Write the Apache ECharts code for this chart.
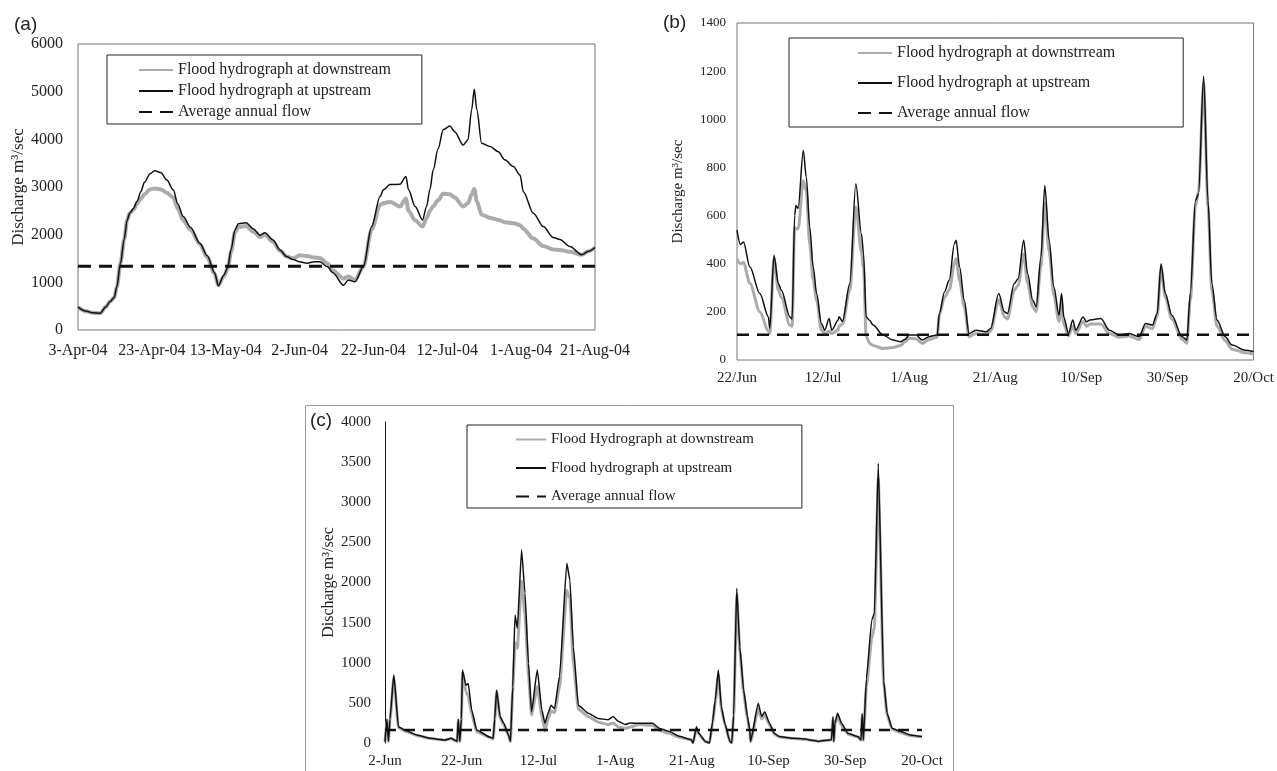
<!DOCTYPE html>
<html><head><meta charset="utf-8">
<script src="https://cdn.jsdelivr.net/npm/echarts@6/dist/echarts.min.js"></script>
<style>html,body{margin:0;padding:0;background:#fff}#c{width:1277px;height:771px}</style>
</head><body><div id="c"></div>
<script>
// ---------- Panel (a) ----------
const aTicks = ['3-Apr-04','23-Apr-04','13-May-04','2-Jun-04','22-Jun-04','12-Jul-04','1-Aug-04','21-Aug-04'];
const aDays = [0,2,4,6,7.5,8.7,9.8,10.5,11.5,12.5,13.3,14,15,16,17,18,19.5,20.8,22.5,24,25.8,27,28.5,30.5,33,35,37,38,39.5,40.5,41.5,42.5,43.4,45.5,47.5,49.3,50.6,52.8,54.7,56.5,58.3,60,62,64,65.5,67.5,69,71.9,73.2,75,77.3,79.5,81.8,82.7,84.5,87.2,88.8,89.5,91.3,93.3,94.4,95.3,96.2,97.5,98.9,100.7,102,104.3,105.6,106.6,107.3,108,109.3,111.6,113.8,115.6,117.9,119.7,120.6,123.3,126,128.7,130.5,133.2,136.4,138.2,140];
const aUp = [480,400,360,350,480,600,680,900,1400,1900,2300,2450,2550,2700,2900,3100,3280,3340,3300,3150,2940,2650,2380,2150,1820,1560,1200,930,1150,1300,1700,2100,2230,2250,2120,1990,2040,1890,1680,1540,1480,1430,1400,1430,1430,1330,1200,940,1050,1010,1330,2170,2800,2940,3050,3060,3220,2940,2590,2310,2590,2950,3360,3800,4200,4280,4160,3880,3990,4620,5050,4620,3920,3850,3740,3570,3430,3250,2900,2450,2170,1940,1900,1750,1580,1650,1730];
const aDown = [480,400,360,350,480,600,680,900,1400,1900,2300,2450,2520,2650,2750,2850,2950,2970,2950,2880,2780,2550,2300,2100,1800,1520,1180,940,1130,1280,1650,2050,2160,2180,2060,1950,2000,1850,1660,1540,1500,1570,1550,1520,1510,1400,1250,1080,1120,1050,1330,2100,2620,2660,2690,2590,2760,2500,2300,2170,2350,2500,2600,2720,2860,2850,2780,2590,2660,2850,2960,2700,2420,2350,2310,2260,2240,2200,2120,1920,1760,1690,1680,1640,1580,1650,1730];
const aAvg = 1340;

// ---------- Panel (b) ----------
const bTicks = ['22/Jun','12/Jul','1/Aug','21/Aug','10/Sep','30/Sep','20/Oct'];
const bDays = [0,0.8,1.5,3,5.3,7.3,7.6,8.6,9.6,10.3,12.3,12.8,13.4,13.7,14.2,15.4,16.1,16.9,17.7,18.5,19.6,20.4,21.4,22,23.5,23.7,24.5,26.2,27.6,28.9,29.4,30,30.8,31.6,33.9,36.2,38,39,40,41.6,43,44.6,46.5,47,48.2,49.3,50.5,50.9,51.7,52.8,53.9,55.5,57.9,58.9,60.8,62.1,62.8,64.4,65.3,66.6,67.5,68.7,69.5,70.6,71.5,72.5,73.6,74.8,75.4,75.9,77,78,78.7,80.4,81.2,82,84.5,86.5,88.8,91.1,93.4,94.9,96.5,97.6,98.5,99.5,101,103.4,104.5,105.3,106.5,107.2,108.4,109.4,110.3,111.5,113.4,115,118,120];
const bUp = [540,480,490,386,276,179,131,435,318,290,179,170,600,642,630,870,759,552,386,276,152,124,172,124,165,180,160,318,732,525,442,179,165,145,104,83,76,85,104,104,83,97,104,193,283,331,483,497,386,248,110,124,117,131,276,200,193,318,338,497,359,248,221,428,725,497,304,186,276,179,110,166,124,179,159,166,172,124,104,110,97,152,145,193,400,276,186,97,83,276,663,690,1180,663,318,166,97,62,41,35];
const bDown = [420,400,405,318,200,120,110,420,290,260,145,140,550,545,545,745,700,480,330,248,124,110,120,110,125,140,150,290,635,450,380,100,69,60,48,52,60,76,90,88,69,85,95,186,260,290,400,421,330,221,97,110,105,120,250,180,170,290,310,440,320,220,200,390,650,450,270,160,240,150,100,140,110,160,140,150,150,110,95,100,85,140,130,180,380,260,170,85,70,250,640,700,1150,640,290,140,80,45,30,25];
const bAvg = 105;

// ---------- Panel (c) ----------
const cTicks = ['2-Jun','22-Jun','12-Jul','1-Aug','21-Aug','10-Sep','30-Sep','20-Oct'];
const cDays = [0,0.5,0.9,1.3,2.3,3.5,5.2,8.3,11.9,15.5,17.3,18.1,18.8,19.1,19.5,19.9,20.2,21.1,21.7,22.6,23.9,27.3,28.2,28.6,29.1,30,31,32.2,32.7,33.3,33.9,34.5,35.6,36.5,37.4,38.2,39.7,40.9,41.7,42.5,43.3,44.2,45.5,47.4,48.2,49.1,50.4,53,55.6,58.2,59.5,60.8,62.6,63.9,66.3,69.8,71.5,74,76.8,79.8,80.3,81.2,81.8,83.5,84.6,85.4,86.1,86.9,87.7,88.6,89.9,90.4,90.9,91.7,92.5,93.5,94.5,95.1,95.3,97.3,98.2,99,100.2,101.5,102.8,106.3,109.8,110.3,113,116.4,116.8,117,117.3,118,119,120.7,123.3,124.1,124.4,124.7,125.5,126.9,127.6,128.6,130,130.9,132.2,134.3,136.9,140];
const cUp = [15,300,20,300,850,203,160,100,58,37,58,37,20,300,20,300,910,720,740,411,162,75,58,300,660,330,245,100,20,700,1595,1430,2405,1870,993,390,910,410,245,370,470,430,830,2240,2030,1200,470,370,305,290,330,270,230,250,245,245,185,145,83,41,0,203,120,20,0,265,535,910,450,245,20,0,350,1928,1200,660,330,160,20,495,330,390,250,120,80,60,50,40,20,40,330,20,250,370,245,120,80,37,370,37,800,1530,1620,3485,780,370,185,145,100,80];
const cDown = [15,280,20,280,820,190,150,95,55,35,55,35,20,280,20,280,880,640,580,360,140,70,50,280,640,310,220,90,20,650,1250,1180,2020,1600,850,350,700,330,150,300,400,380,700,1900,1800,1000,420,330,260,230,250,200,180,200,230,220,160,120,70,40,0,180,110,20,0,250,500,850,420,230,20,0,330,1850,1150,620,300,140,20,420,300,350,230,110,75,55,45,40,20,40,300,20,230,340,220,110,75,35,330,35,700,1300,1450,3300,750,350,170,130,95,75];
const cAvg = 162;

const zip = (d, v) => d.map((x, i) => [x, v[i]]);
const SERIF = 'Liberation Serif';
const BLACK = '#111';
const GRAY = '#ababab';

function xAxis(grid, ticks, size, margin, max) {
  return {
    type: 'value', gridIndex: grid, min: 0, max: max, interval: 20,
    axisLine: { show: false }, axisTick: { show: false }, splitLine: { show: false },
    axisLabel: { fontFamily: SERIF, fontSize: size, color: '#222', margin: margin,
      showMinLabel: true, showMaxLabel: true,
      formatter: v => ticks[Math.round(v / 20)] || '' }
  };
}
function yAxis(grid, max, interval, size, margin, nameSize, nameGap, lineShow) {
  return {
    type: 'value', gridIndex: grid, min: 0, max: max, interval: interval,
    name: 'Discharge m³/sec', nameLocation: 'middle', nameRotate: 90, nameGap: nameGap,
    nameTextStyle: { fontFamily: SERIF, fontSize: nameSize, color: '#222' },
    axisLine: { show: lineShow, lineStyle: { color: '#111', width: 1 } },
    axisTick: { show: false }, splitLine: { show: false },
    axisLabel: { fontFamily: SERIF, fontSize: size, color: '#222', margin: margin,
      formatter: v => String(v) }
  };
}
function legend(left, top, names, size, gap, pad, iw) {
  return {
    orient: 'vertical', left: left, top: top, data: names,
    borderColor: '#222', borderWidth: 1, padding: pad, itemGap: gap,
    itemWidth: iw, itemHeight: size, selectedMode: false,
    itemStyle: { opacity: 0 },
    textStyle: { fontFamily: SERIF, fontSize: size, color: '#222', lineHeight: size }
  };
}
function line(name, idx, data, color, width, type, smooth) {
  return {
    type: 'line', name: name, xAxisIndex: idx, yAxisIndex: idx, data: data,
    symbol: 'none', showSymbol: false, smooth: smooth || false, smoothMonotone: 'x',
    z: type ? 3 : (color === GRAY ? 2 : 4),
    lineStyle: { color: color, width: width, type: type || 'solid' },
    itemStyle: { color: color }
  };
}

const chart = echarts.init(document.getElementById('c'));
chart.setOption({
  animation: false,
  backgroundColor: '#fff',
  title: [
    { text: '(a)', left: 14, top: 15, textStyle: { fontFamily: 'Liberation Sans', fontSize: 19, fontWeight: 'normal', color: '#222' }, padding: 0 },
    { text: '(b)', left: 663, top: 13, textStyle: { fontFamily: 'Liberation Sans', fontSize: 19, fontWeight: 'normal', color: '#222' }, padding: 0 },
    { text: '(c)', left: 310, top: 411, textStyle: { fontFamily: 'Liberation Sans', fontSize: 19, fontWeight: 'normal', color: '#222' }, padding: 0 }
  ],
  graphic: [
    { type: 'rect', shape: { x: 305.5, y: 405.5, width: 648, height: 420 }, style: { fill: 'none', stroke: '#9a9a9a', lineWidth: 1 }, silent: true }
  ],
  grid: [
    { left: 78, top: 44, width: 517, height: 286, show: true, borderColor: '#777', borderWidth: 1, backgroundColor: 'transparent' },
    { left: 737, top: 23, width: 518, height: 337, show: true, borderColor: '#777', borderWidth: 1, backgroundColor: 'transparent' },
    { left: 385, top: 422, width: 537, height: 321, show: false }
  ],
  xAxis: [ xAxis(0, aTicks, 16, 13, 140), xAxis(1, bTicks, 15, 11, 120), xAxis(2, cTicks, 15, 11, 140) ],
  yAxis: [ yAxis(0, 6000, 1000, 16, 15, 17, 51, false),
           yAxis(1, 1400, 200, 13, 11, 15, 51, false),
           yAxis(2, 4000, 500, 15, 14, 16, 47, true) ],
  legend: [
    legend(107, 55, ['Flood hydrograph at downstream', 'Flood hydrograph at upstream', 'Average annual flow'], 16, 5, [7, 31, 4, 31], 34),
    legend(789, 38, ['Flood hydrograph at downstrream', 'Flood hydrograph at upstream', 'Average annual flow'], 16, 14, [7, 68, 6, 68], 34),
    legend(467, 425, ['Flood Hydrograph at downstream', 'Flood hydrograph at upstream', 'Average annual flow'], 15, 13.5, [7, 48, 4, 48], 30)
  ],
  series: [
    line('Flood hydrograph at downstream', 0, zip(aDays, aDown), GRAY, 4, null, 0.3),
    line('Flood hydrograph at upstream', 0, zip(aDays, aUp), BLACK, 1.5, null, 0.3),
    line('Average annual flow', 0, [[0, aAvg], [140, aAvg]], BLACK, 3, [13, 8]),
    line('Flood hydrograph at downstrream', 1, zip(bDays, bDown), GRAY, 3, null, 0.3),
    line('Flood hydrograph at upstream', 1, zip(bDays, bUp), BLACK, 1.5, null, 0.3),
    line('Average annual flow', 1, [[0, bAvg], [120, bAvg]], BLACK, 2.5, [12, 8]),
    line('Flood Hydrograph at downstream', 2, zip(cDays, cDown), GRAY, 3, null, 0.15),
    line('Flood hydrograph at upstream', 2, zip(cDays, cUp), BLACK, 1.5, null, 0.15),
    line('Average annual flow', 2, [[0, cAvg], [140, cAvg]], BLACK, 2.5, [11, 8])
  ]
});
</script>
</body></html>
